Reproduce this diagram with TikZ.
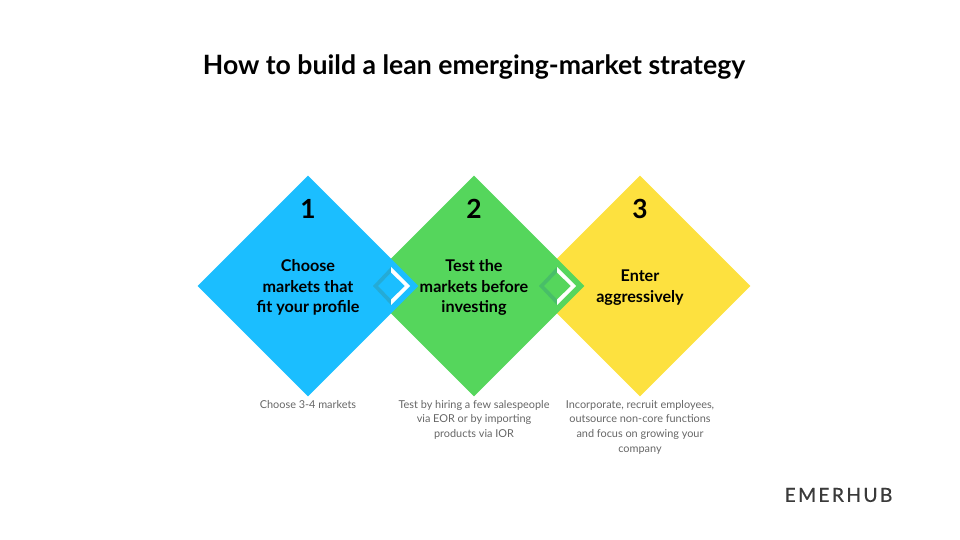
\documentclass[tikz,border=0pt]{standalone}
\usepackage{fontspec}
\setmainfont{Lato}
\usetikzlibrary{shapes.geometric,positioning}
\definecolor{stepblue}{HTML}{1BBEFF}
\definecolor{stepgreen}{HTML}{55D65C}
\definecolor{stepyellow}{HTML}{FDE13F}
\definecolor{darkblue}{HTML}{25ABD6}
\definecolor{darkgreen}{HTML}{48BE68}
\definecolor{notegray}{HTML}{666666}
\definecolor{logogray}{HTML}{3A3A3A}
\begin{document}
\begin{tikzpicture}[x=0.02cm,y=0.02cm]
\tikzset{stepbox/.style={diamond,aspect=1,inner sep=0pt,minimum width=4.42cm,minimum height=4.42cm},
num/.style={font=\fontsize{15}{18}\selectfont\bfseries},
head/.style={font=\fontsize{9.2}{11.8}\selectfont\bfseries,align=center},
note/.style={font=\fontsize{6.2}{8.4}\selectfont,text=notegray,align=center,anchor=north}}
\useasboundingbox (0,0) rectangle (960,-540);
\node[font=\fontsize{15.15}{18}\selectfont\bfseries] (title) at (474,-67){How to build a lean emerging-market strategy};

\node[stepbox,fill=stepyellow] (yellow) at (640,-286){};
\node[stepbox,fill=stepgreen] (green) at (474,-286){};
\node[stepbox,fill=stepblue] (blue) at (308,-286){};

\foreach \x/\c in {391/darkblue,557/darkgreen} {
\fill[\c] (\x,-267) -- (\x-18,-286) -- (\x,-305) -- (\x,-299.5) -- (\x-13,-286) -- (\x,-272.5) -- cycle;
\fill[white] (\x,-267) -- (\x+19,-286) -- (\x,-305) -- (\x,-299.5) -- (\x+14,-286) -- (\x,-272.5) -- cycle; }

\node[num] (one) at (308,-209){1};
\node[num] (two) at (474,-209){2};
\node[num] (three) at (640,-209){3};

\node[head] (blue text) at (308,-287.5){Choose\\markets that\\fit your profile};
\node[head] (green text) at (474,-287.5){Test the\\markets before\\investing};
\node[head] (yellow text) at (640,-287.5){Enter\\aggressively};

\node[note] (blue note) at (308,-394){Choose 3-4 markets};
\node[note] (green note) at (474,-394){Test by hiring a few salespeople\\via EOR or by importing\\products via IOR};
\node[note] (yellow note) at (640,-394){Incorporate, recruit employees,\\outsource non-core functions\\and focus on growing your\\company};

\node[font=\fontsize{11}{13}\selectfont\addfontfeatures{LetterSpace=12,FakeBold=0.5},text=logogray] (logo) at (838.5,-495){EMERHUB};
\end{tikzpicture}
\end{document}
